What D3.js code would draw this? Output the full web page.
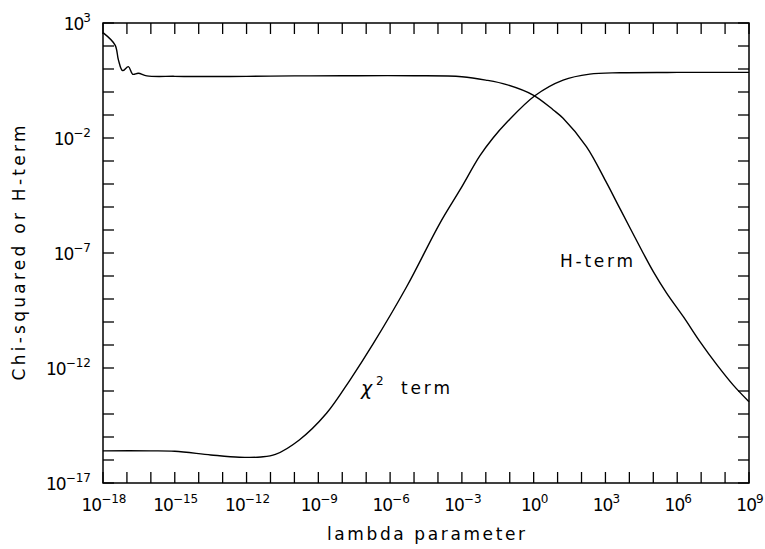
<!DOCTYPE html>
<html>
<head>
<meta charset="utf-8">
<script src="https://cdn.jsdelivr.net/npm/d3@7"></script>
<style>
  html, body { margin: 0; padding: 0; background: #fff; }
  svg { display: block; }
  text { font-family: "DejaVu Sans", sans-serif; fill: #000; }
</style>
</head>
<body>
<svg id="chart" width="765" height="549"></svg>
<script>
// Regularisation parameter sweep: chi-squared term and entropy (H) term
const lambdaChi = [1e-18, 1e-16, 1e-15, 3.2e-14, 5e-13, 4e-12, 1.6e-11, 1.6e-10, 2.2e-9, 2.1e-8,
  2.0e-7, 4.9e-6, 1.2e-4, 8.3e-4, 5.6e-3, 0.02, 0.074, 1.12, 17, 220, 4000, 1e6, 1e9];
const chiSquared = [2.5e-16, 2.5e-16, 2.4e-16, 1.66e-16, 1.32e-16, 1.35e-16, 1.74e-16, 7.4e-16, 1.07e-14, 3.0e-13,
  1.17e-11, 3.4e-9, 1.95e-6, 5.5e-5, 1.66e-3, 0.010, 0.047, 0.69, 3.3, 6.0, 6.9, 7.1, 7.1];

const lambdaH = [1e-18, 3.2e-18, 4.4e-18, 6.6e-18, 1.15e-17, 1.74e-17, 3.0e-17, 6.8e-17, 1e-15, 1e-14,
  1e-12, 1e-10, 1e-8, 1e-5, 1e-3, 1e-2, 0.074, 1, 6.6, 17, 160, 1000, 4000, 3.8e4, 1e5, 3.6e5,
  1.8e6, 8.9e6, 4.5e7, 2.2e8, 1e9];
const hTerm = [380, 110, 25, 8.5, 12.6, 5.9, 6.5, 5.0, 4.8, 4.7,
  4.8, 5.0, 5.1, 5.1, 4.6, 3.3, 2.1, 0.72, 0.166, 0.072, 4.2e-3, 1.4e-4, 8.7e-6, 9.8e-8, 1.55e-8, 1.8e-9,
  1.7e-10, 1.4e-11, 1.4e-12, 1.8e-13, 3.4e-14];

// Axis ticks: one per decade, labelled every few decades
const xTickExps = d3.range(-18, 10);
const xLabelExps = [-18, -15, -12, -9, -6, -3, 0, 3, 6, 9];
const yTickExps = d3.range(-17, 4);
const yLabelExps = [-17, -12, -7, -2, 3];

const plotLeft = 103, plotRight = 749, plotTop = 23, plotBottom = 483;
const x = d3.scaleLog().domain([1e-18, 1e9]).range([plotLeft, plotRight]);
const y = d3.scaleLog().domain([1e-17, 1e3]).range([plotBottom, plotTop]);

const svg = d3.select("#chart");

// frame
svg.append("rect")
  .attr("x", plotLeft).attr("y", plotTop)
  .attr("width", plotRight - plotLeft).attr("height", plotBottom - plotTop)
  .attr("fill", "none").attr("stroke", "#000").attr("stroke-width", 1.5);

const tickLen = 11;
const ticks = svg.append("g").attr("stroke", "#000").attr("stroke-width", 1.3);
xTickExps.forEach(e => {
  const px = x(Math.pow(10, e));
  ticks.append("line").attr("x1", px).attr("x2", px).attr("y1", plotBottom).attr("y2", plotBottom - tickLen);
  ticks.append("line").attr("x1", px).attr("x2", px).attr("y1", plotTop).attr("y2", plotTop + tickLen);
});
yTickExps.forEach(e => {
  const py = y(Math.pow(10, e));
  ticks.append("line").attr("y1", py).attr("y2", py).attr("x1", plotLeft).attr("x2", plotLeft + tickLen);
  ticks.append("line").attr("y1", py).attr("y2", py).attr("x1", plotRight).attr("x2", plotRight - tickLen);
});

function powerLabel(sel, e) {
  sel.append("tspan").attr("font-size", 17).attr("letter-spacing", -1).text("10");
  sel.append("tspan").attr("font-size", 12).attr("dy", -8).text(e < 0 ? "\u2212" + (-e) : String(e));
}

xLabelExps.forEach(e => {
  const t = svg.append("text")
    .attr("x", x(Math.pow(10, e)) + 1).attr("y", plotBottom + 28)
    .attr("text-anchor", "middle");
  powerLabel(t, e);
});
yLabelExps.forEach(e => {
  const t = svg.append("text")
    .attr("x", 91).attr("y", y(Math.pow(10, e)) + 6.5)
    .attr("text-anchor", "end");
  powerLabel(t, e);
});

// axis titles
svg.append("text")
  .attr("x", (plotLeft + plotRight) / 2).attr("y", 540)
  .attr("text-anchor", "middle").attr("font-size", 17)
  .attr("textLength", 198).attr("lengthAdjust", "spacing")
  .text("lambda parameter");
svg.append("text")
  .attr("transform", `translate(25,${(plotTop + plotBottom) / 2}) rotate(-90)`)
  .attr("text-anchor", "middle").attr("font-size", 17)
  .attr("textLength", 255).attr("lengthAdjust", "spacing")
  .text("Chi-squared or H-term");

// curves
const line = d3.line()
  .x(d => x(d[0])).y(d => y(d[1]))
  .curve(d3.curveCatmullRom.alpha(0.5));

svg.append("path")
  .datum(d3.zip(lambdaChi, chiSquared))
  .attr("d", line)
  .attr("fill", "none").attr("stroke", "#000").attr("stroke-width", 1.4);

svg.append("path")
  .datum(d3.zip(lambdaH, hTerm))
  .attr("d", line)
  .attr("fill", "none").attr("stroke", "#000").attr("stroke-width", 1.4);

// curve annotations
svg.append("text")
  .attr("x", 361).attr("y", 395).attr("font-size", 19).attr("font-style", "italic")
  .text("\u03c7");
svg.append("text")
  .attr("x", 376).attr("y", 385).attr("font-size", 12)
  .text("2");
svg.append("text")
  .attr("x", 401).attr("y", 394).attr("font-size", 17)
  .attr("textLength", 49).attr("lengthAdjust", "spacing")
  .text("term");
svg.append("text")
  .attr("x", 560).attr("y", 267).attr("font-size", 17)
  .attr("textLength", 73).attr("lengthAdjust", "spacing")
  .text("H-term");
</script>
</body>
</html>
